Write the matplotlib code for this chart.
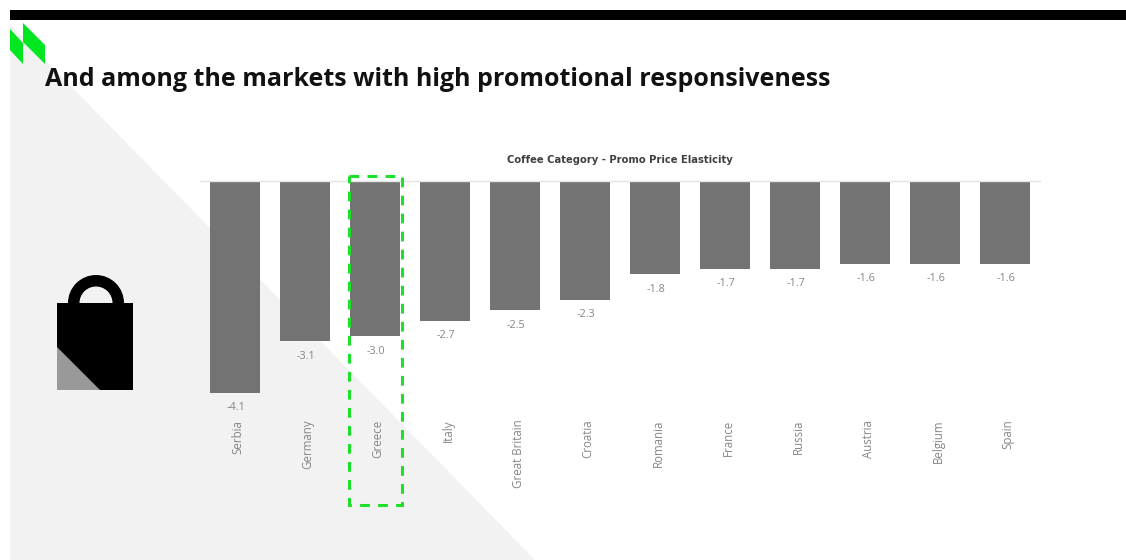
import matplotlib
matplotlib.use("Agg")
import matplotlib.pyplot as plt
from matplotlib.patches import Polygon, Rectangle, Wedge

W, H = 1126, 560

markets = ["Serbia", "Germany", "Greece", "Italy", "Great Britain", "Croatia",
           "Romania", "France", "Russia", "Austria", "Belgium", "Spain"]
elasticity = [-4.1, -3.1, -3.0, -2.7, -2.5, -2.3, -1.8, -1.7, -1.7, -1.6, -1.6, -1.6]
highlighted = "Greece"
chart_title = "Coffee Category - Promo Price Elasticity"
slide_title = "And among the markets with high promotional responsiveness"

GREY_BAR = "#737373"
GREY_TEXT = "#868686"
GREEN = "#00E620"

fig = plt.figure(figsize=(W / 100, H / 100), dpi=100, facecolor="white")

# Slide furniture lives on a full-figure canvas measured in pixels from the top left
bg = fig.add_axes([0, 0, 1, 1], zorder=0)
bg.set_xlim(0, W)
bg.set_ylim(H, 0)
bg.axis("off")
bg.add_patch(Polygon([(10, 24), (535, 560), (10, 560)], fc="#F2F2F2", ec="none"))
bg.add_patch(Rectangle((10, 10), W - 10, 10, fc="black", ec="none"))
bg.add_patch(Polygon([(10, 29), (23, 43), (23, 64), (10, 50)], fc=GREEN, ec="none"))
bg.add_patch(Polygon([(23, 23), (45, 45), (45, 64), (23, 42)], fc=GREEN, ec="none"))
bg.text(45, 80, slide_title, fontsize=18, fontweight="bold", family="Open Sans",
        color="#111111", va="center", ha="left")

# Shopping bag icon
bg.add_patch(Wedge((96, 303), 28, 180, 360, width=11.5, fc="black", ec="none"))
bg.add_patch(Rectangle((57, 303), 76, 87, fc="black", ec="none"))
bg.add_patch(Polygon([(57, 347), (100, 390), (57, 390)], fc="#999999", ec="none"))

# Bar chart: 70 px per category, 51.7 px per elasticity unit
ax_left, ax_right, ax_top = 200, 1040, 181
y_floor = -4.5
ax_h = -y_floor * 51.7
ax = fig.add_axes([ax_left / W, 1 - (ax_top + ax_h) / H, (ax_right - ax_left) / W, ax_h / H],
                  zorder=1)
ax.patch.set_alpha(0)
positions = list(range(len(markets)))
ax.bar(positions, elasticity, width=0.72, color=GREY_BAR)
ax.set_xlim(-0.5, len(markets) - 0.5)
ax.set_ylim(y_floor, 0)
ax.set_yticks([])
ax.set_xticks([])
for side in ("left", "right", "bottom"):
    ax.spines[side].set_visible(False)
ax.spines["top"].set_color("#e4e4e4")
ax.spines["top"].set_linewidth(1)

for x, v, name in zip(positions, elasticity, markets):
    ax.annotate(f"{v:.1f}", (x, v), xytext=(1, -15), textcoords="offset pixels",
                ha="center", va="center", fontsize=7.8, color=GREY_TEXT, family="Open Sans")
    ax.annotate(name, (x, y_floor), xytext=(3, -6), textcoords="offset pixels",
                ha="center", va="top", rotation=90, fontsize=8.3, color=GREY_TEXT,
                family="Open Sans", annotation_clip=False)

ax.text(0.5, 1.07, chart_title, transform=ax.transAxes, ha="center", va="bottom",
        fontsize=7.2, fontweight="bold", color="#404040", family="DejaVu Sans")

# Dashed outline around the highlighted market
fg = fig.add_axes([0, 0, 1, 1], zorder=2)
fg.set_xlim(0, W)
fg.set_ylim(H, 0)
fg.axis("off")
i = markets.index(highlighted)
cx = ax_left + (i + 0.5) * 70
fg.add_patch(Rectangle((cx - 26.5, 176), 53.5, 329, fill=False, ec="#1DE02A", lw=2.2,
                       ls=(0, (3.2, 2.7))))

fig.savefig("out.png", dpi=100, facecolor="white")
